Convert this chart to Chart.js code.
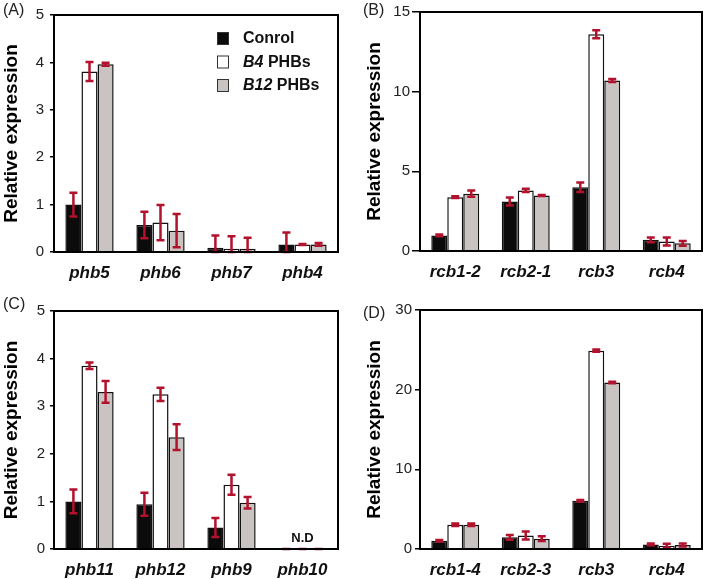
<!DOCTYPE html>
<html>
<head>
<meta charset="utf-8">
<script src="https://cdn.jsdelivr.net/npm/chart.js@4.4.0/dist/chart.umd.min.js"></script>
<style>
  body { margin: 0; background: #fff; }
  #wrap { position: relative; width: 706px; height: 579px; overflow: hidden; }
  canvas { position: absolute; }
  .lbl { position: absolute; font: 16px "Liberation Sans", Arial, sans-serif; color: #222; }
</style>
</head>
<body>
<div id="wrap">
  <canvas id="panelA" style="left:0;top:0"></canvas>
  <canvas id="panelB" style="left:353px;top:0"></canvas>
  <canvas id="panelC" style="left:0;top:292px"></canvas>
  <canvas id="panelD" style="left:353px;top:292px"></canvas>
  <div class="lbl" style="left:3px;top:1px">(A)</div>
  <div class="lbl" style="left:363px;top:1px">(B)</div>
  <div class="lbl" style="left:3px;top:295px">(C)</div>
  <div class="lbl" style="left:363px;top:304px">(D)</div>
</div>
<script>
// Series names
var seriesNames = ["Conrol", "B4 PHBs", "B12 PHBs"];

// (A)
var genesA = ["phb5", "phb6", "phb7", "phb4"];
var controlA = [1.0, 0.57, 0.09, 0.16];
var b4A = [3.81, 0.62, 0.07, 0.16];
var b12A = [3.96, 0.45, 0.07, 0.16];
var controlAErr = [0.25, 0.28, 0.26, 0.25];
var b4AErr = [0.2, 0.37, 0.26, 0.01];
var b12AErr = [0.03, 0.35, 0.23, 0.03];
var ticksA = [0, 1, 2, 3, 4, 5];

// (B)
var genesB = ["rcb1-2", "rcb2-1", "rcb3", "rcb4"];
var controlB = [0.98, 3.1, 4.0, 0.7];
var b4B = [3.38, 3.8, 13.6, 0.6];
var b12B = [3.6, 3.48, 10.7, 0.48];
var controlBErr = [0.05, 0.25, 0.3, 0.15];
var b4BErr = [0.05, 0.1, 0.25, 0.25];
var b12BErr = [0.2, 0.03, 0.1, 0.15];
var ticksB = [0, 5, 10, 15];

// (C)
var genesC = ["phb11", "phb12", "phb9", "phb10"];
var controlC = [1.0, 0.94, 0.45, 0];
var b4C = [3.85, 3.25, 1.35, 0];
var b12C = [3.3, 2.35, 0.97, 0];
var controlCErr = [0.25, 0.24, 0.2, 0];
var b4CErr = [0.07, 0.14, 0.21, 0];
var b12CErr = [0.23, 0.27, 0.12, 0];
var ticksC = [0, 1, 2, 3, 4, 5];

// (D)
var genesD = ["rcb1-4", "rcb2-3", "rcb3", "rcb4"];
var controlD = [1.04, 1.46, 6.06, 0.58];
var b4D = [3.05, 1.7, 24.9, 0.42];
var b12D = [3.05, 1.3, 20.9, 0.5];
var controlDErr = [0.1, 0.3, 0.1, 0.1];
var b4DErr = [0.15, 0.5, 0.15, 0.25];
var b12DErr = [0.15, 0.3, 0.1, 0.2];
var ticksD = [0, 10, 20, 30];

var fillColors = ["#0b0b0b", "#ffffff", "#c9c4c1"];
var errColor = "#b3122d";
var fontFam = '"Liberation Sans", Arial, sans-serif';

// frame round the plot area
var framePlugin = {
    id: 'frame',
    afterDraw: function(chart) {
        var a = chart.chartArea, ctx = chart.ctx;
        ctx.save();
        ctx.strokeStyle = '#000';
        ctx.lineWidth = 2;
        ctx.strokeRect(a.left, a.top, a.right - a.left, a.bottom - a.top);
        ctx.restore();
    }
};

// error bars from the errs array of each dataset
var errorPlugin = {
    id: 'errbars',
    afterDatasetsDraw: function(chart) {
        var ctx = chart.ctx, y = chart.scales.y;
        ctx.save();
        ctx.strokeStyle = errColor;
        chart.data.datasets.forEach(function(ds, i) {
            var meta = chart.getDatasetMeta(i);
            meta.data.forEach(function(bar, j) {
                var v = ds.data[j], e = ds.errs[j];
                var top = y.getPixelForValue(v + e), bot = y.getPixelForValue(v - e);
                if (v - e < 0) bot = y.getPixelForValue(0);
                ctx.lineWidth = 2.5;
                ctx.beginPath();
                ctx.moveTo(bar.x, top); ctx.lineTo(bar.x, bot);
                ctx.moveTo(bar.x - 4, top); ctx.lineTo(bar.x + 4, top);
                ctx.moveTo(bar.x - 4, bot); ctx.lineTo(bar.x + 4, bot);
                ctx.stroke();
            });
        });
        ctx.restore();
        var nd = chart.options.plugins.nd;
        if (nd && nd.label) {
            var xs = chart.scales.x;
            ctx.save();
            ctx.fillStyle = '#111';
            ctx.font = 'bold 13px ' + fontFam;
            ctx.textAlign = 'center';
            ctx.textBaseline = 'bottom';
            ctx.fillText(nd.label, xs.getPixelForValue(nd.index), y.getPixelForValue(0) - 4);
            ctx.restore();
        }
    }
};

// legend with italic strain code
var legendPlugin = {
    id: 'mixedLegend',
    afterDraw: function(chart) {
        var lg = chart.options.plugins.mixedLegend;
        if (!lg || !lg.show) return;
        var ctx = chart.ctx, a = chart.chartArea;
        var x0 = a.left + 163, y0 = a.top + 17;
        ctx.save();
        ctx.textBaseline = 'middle';
        seriesNames.forEach(function(name, i) {
            var yy = y0 + i * 23.5;
            ctx.fillStyle = fillColors[i];
            ctx.fillRect(x0, yy, 11, 12);
            ctx.strokeStyle = '#333';
            ctx.lineWidth = 1;
            ctx.strokeRect(x0 + 0.5, yy + 0.5, 11, 12);
            ctx.fillStyle = '#111';
            var parts = name.split(' ');
            var tx = x0 + 26;
            if (parts.length > 1) {
                ctx.font = 'italic bold 16px ' + fontFam;
                ctx.fillText(parts[0], tx, yy + 7);
                tx += ctx.measureText(parts[0] + ' ').width;
                ctx.font = 'bold 16px ' + fontFam;
                ctx.fillText(parts.slice(1).join(' '), tx, yy + 7);
            } else {
                ctx.font = 'bold 16px ' + fontFam;
                ctx.fillText(name, tx, yy + 7);
            }
        });
        ctx.restore();
    }
};

function makePanel(id, w, h, genes, c, b4, b12, ce, b4e, b12e, ticks, geo) {
    var canvas = document.getElementById(id);
    canvas.width = w; canvas.height = h;
    canvas.style.width = w + 'px'; canvas.style.height = h + 'px';
    var vals = [c, b4, b12], errs = [ce, b4e, b12e];
    var datasets = vals.map(function(v, i) {
        return {
            label: seriesNames[i],
            data: v,
            errs: errs[i],
            backgroundColor: fillColors[i],
            borderColor: '#111',
            borderWidth: 1.5,
            categoryPercentage: 0.68,
            barPercentage: 1.0
        };
    });
    return new Chart(canvas, {
        type: 'bar',
        data: { labels: genes, datasets: datasets },
        plugins: [framePlugin, errorPlugin, legendPlugin],
        options: {
            responsive: false,
            animation: false,
            layout: { padding: { top: geo.top, right: geo.right, left: 0, bottom: 0 } },
            plugins: {
                legend: { display: false },
                tooltip: { enabled: false },
                mixedLegend: { show: geo.legend },
                nd: geo.nd || null
            },
            scales: {
                x: {
                    grid: { display: false },
                    border: { display: false },
                    ticks: {
                        color: '#111',
                        padding: 3,
                        font: { family: fontFam, size: 17, weight: 'bold', style: 'italic' }
                    },
                    afterFit: function(s) { s.height = geo.xh; }
                },
                y: {
                    min: ticks[0],
                    max: ticks[ticks.length - 1],
                    afterBuildTicks: function(s) {
                        s.ticks = ticks.map(function(t) { return { value: t }; });
                    },
                    grid: { drawOnChartArea: false, color: '#000', tickLength: geo.tl, lineWidth: 1.5 },
                    border: { display: false },
                    ticks: {
                        color: '#222',
                        padding: geo.tp,
                        font: { family: fontFam, size: 15 }
                    },
                    title: {
                        display: true,
                        text: 'Relative expression',
                        color: '#000',
                        padding: { top: geo.titlePad, bottom: 0 },
                        font: { family: fontFam, size: 19, weight: 'bold' }
                    },
                    afterFit: function(s) { s.width = geo.yw; }
                }
            }
        }
    });
}

makePanel('panelA', 353, 292, genesA, controlA, b4A, b12A, controlAErr, b4AErr, b12AErr, ticksA,
    { top: 13, right: 15, xh: 40, yw: 54, tl: 4, tp: 6, titlePad: 0, legend: true });
makePanel('panelB', 353, 292, genesB, controlB, b4B, b12B, controlBErr, b4BErr, b12BErr, ticksB,
    { top: 12, right: 4, xh: 41, yw: 67, tl: 8, tp: 2, titlePad: 10, legend: false });
makePanel('panelC', 353, 287, genesC, controlC, b4C, b12C, controlCErr, b4CErr, b12CErr, ticksC,
    { top: 19, right: 15, xh: 30, yw: 54, tl: 4, tp: 5, titlePad: 0, legend: false,
      nd: { label: 'N.D', index: 3 } });
makePanel('panelD', 353, 287, genesD, controlD, b4D, b12D, controlDErr, b4DErr, b12DErr, ticksD,
    { top: 18, right: 4, xh: 30, yw: 67, tl: 5, tp: 3, titlePad: 10, legend: false });
</script>
</body>
</html>
